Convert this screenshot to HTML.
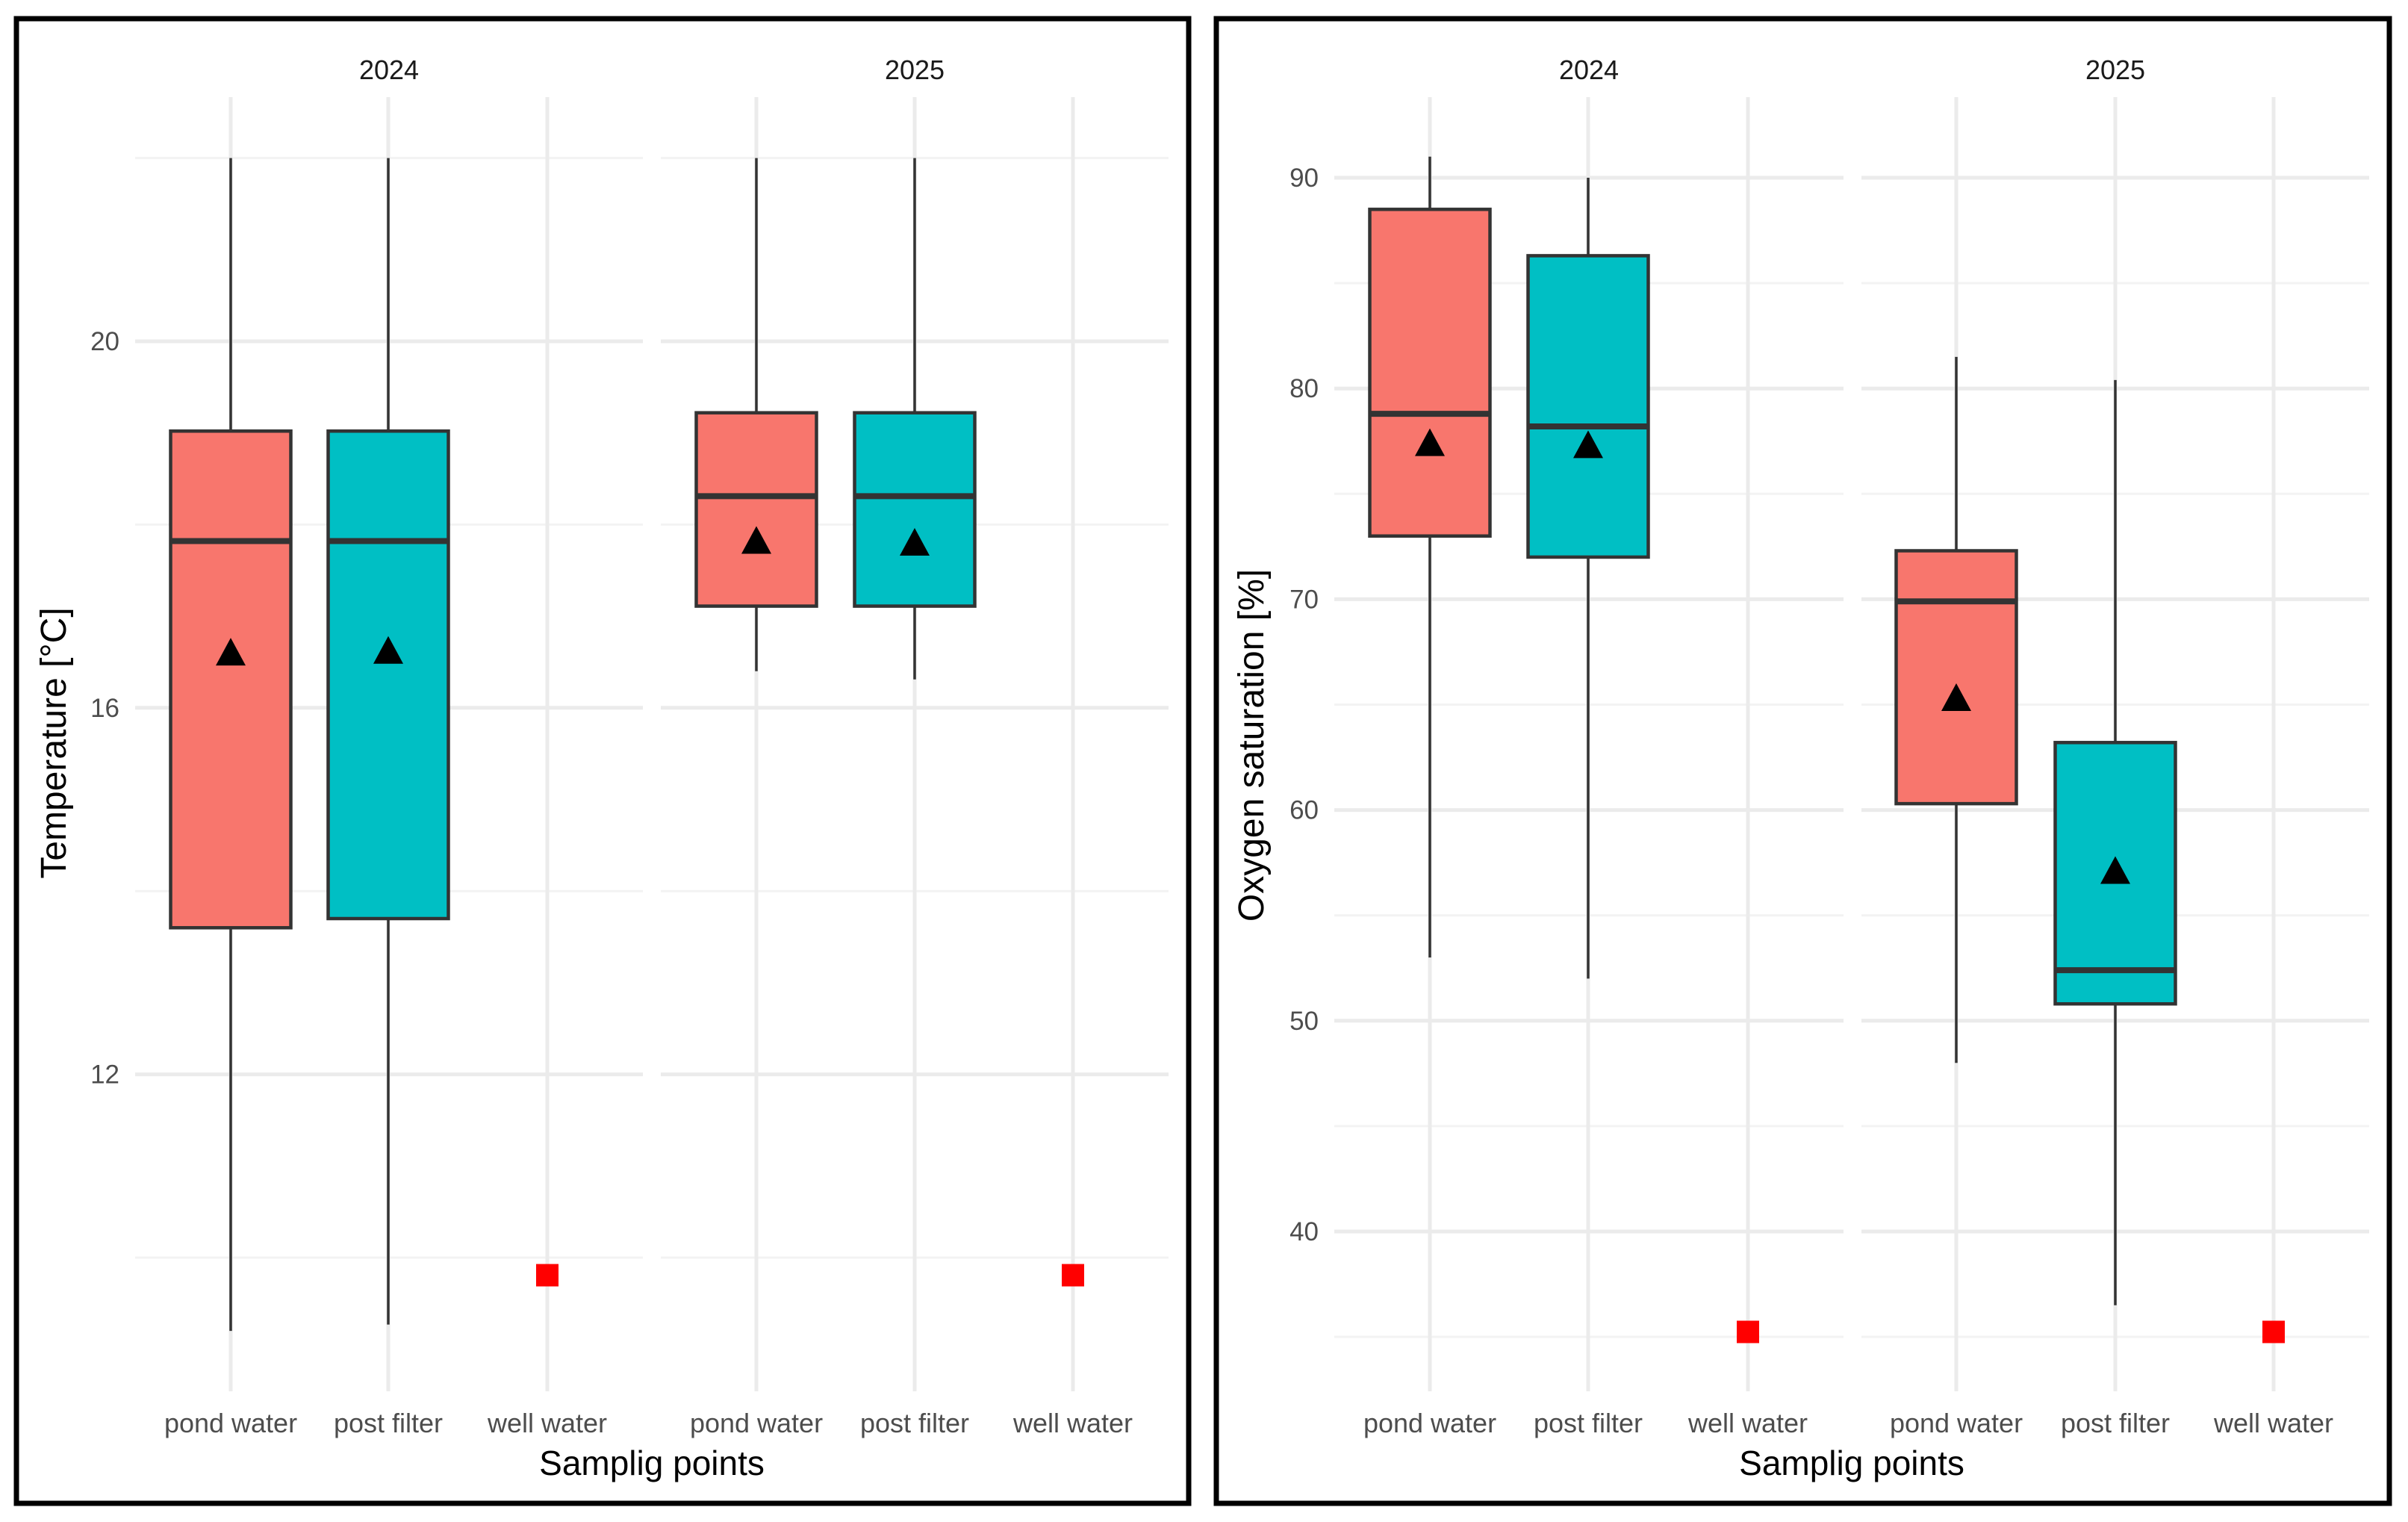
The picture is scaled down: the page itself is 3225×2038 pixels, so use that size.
<!DOCTYPE html>
<html><head><meta charset="utf-8"><style>
html,body{margin:0;padding:0;background:#fff;}
svg{display:block;font-family:"Liberation Sans",Arial,sans-serif;}
</style></head><body>
<svg id="chart" width="3225" height="2038" viewBox="0 0 3225 2038" xmlns="http://www.w3.org/2000/svg">
<rect x="0" y="0" width="3225" height="2038" fill="#fff"/>
</svg>
<script>
// ---- data ----
const categories = ["pond water","post filter","well water"];
const years = ["2024","2025"];
// temperature: [lower whisker, q1, median, q3, upper whisker, mean] for pond/post; well is single point
const tempPond2024 = [9.2, 13.6, 17.82, 19.02, 22.0, 16.6];
const tempPost2024 = [9.27, 13.7, 17.82, 19.02, 22.0, 16.62];
const tempWell2024 = [9.8];
const tempPond2025 = [16.4, 17.11, 18.31, 19.22, 22.0, 17.82];
const tempPost2025 = [16.31, 17.11, 18.31, 19.22, 22.0, 17.8];
const tempWell2025 = [9.8];
const tempTicks = [12, 16, 20];
const tempMinor = [10, 14, 18, 22];
// oxygen saturation
const oxyPond2024 = [53.0, 73.0, 78.8, 88.5, 91.0, 77.4];
const oxyPost2024 = [52.0, 72.0, 78.2, 86.3, 90.0, 77.3];
const oxyWell2024 = [35.2];
const oxyPond2025 = [48.0, 60.3, 69.9, 72.3, 81.5, 65.3];
const oxyPost2025 = [36.5, 50.8, 52.4, 63.2, 80.4, 57.1];
const oxyWell2025 = [35.2];
const oxyTicks = [40, 50, 60, 70, 80, 90];
const oxyMinor = [35, 45, 55, 65, 75, 85];

const NS = "http://www.w3.org/2000/svg";
const svg = document.getElementById("chart");
function mk(tag, attrs, parent) {
  const e = document.createElementNS(NS, tag);
  for (const k in attrs) e.setAttribute(k, attrs[k]);
  (parent || svg).appendChild(e);
  return e;
}

function drawPanel(cfg) {
  const g = mk("g", {});
  
  
  const fr = mk("rect", {x: cfg.frame[0], y: cfg.frame[1], width: cfg.frame[2], height: cfg.frame[3], fill: "none", stroke: "#000", "stroke-width": 7}, g);
  
  
  const yScale = v => cfg.y0 + (cfg.v0 - v) * cfg.k;
  cfg.facets.forEach((fx, fi) => {
    const fg = mk("g", {}, g);
    
    
    const left = fx[0], right = fx[1];
    cfg.minor.forEach(v => {
      const l = mk("line", {x1: left, x2: right, y1: yScale(v), y2: yScale(v), stroke: "#f3f3f3", "stroke-width": 3}, fg);
      
      
    });
    cfg.ticks.forEach(v => {
      const l = mk("line", {x1: left, x2: right, y1: yScale(v), y2: yScale(v), stroke: "#ebebeb", "stroke-width": 5}, fg);
      
      
    });
    const cx = cfg.cats[fi];
    cx.forEach(x => {
      const l = mk("line", {x1: x, x2: x, y1: 130, y2: 1863, stroke: "#ebebeb", "stroke-width": 5}, fg);
      
      
    });
    const ft = mk("text", {x: (left + right) / 2, y: 106, "text-anchor": "middle", "font-size": 36, fill: "#1a1a1a"}, fg);
    ft.textContent = years[fi];
    
    
    const boxes = cfg.data[fi];
    const fills = ["#F8766D", "#00BFC4"];
    [0, 1].forEach(bi => {
      const d = boxes[bi];
      const x = cx[bi], w = 161;
      const bg = mk("g", {}, fg);
      
      
      let l = mk("line", {x1: x, x2: x, y1: yScale(d[4]), y2: yScale(d[3]), stroke: "#333", "stroke-width": 3.5}, bg);
      
      
      l = mk("line", {x1: x, x2: x, y1: yScale(d[1]), y2: yScale(d[0]), stroke: "#333", "stroke-width": 3.5}, bg);
      
      
      const r = mk("rect", {x: x - w / 2, y: yScale(d[3]), width: w, height: yScale(d[1]) - yScale(d[3]), fill: fills[bi], stroke: "#333", "stroke-width": 4.5}, bg);
      
      
      l = mk("line", {x1: x - w / 2, x2: x + w / 2, y1: yScale(d[2]), y2: yScale(d[2]), stroke: "#333", "stroke-width": 8}, bg);
      
      
      const my = yScale(d[5]);
      const t = mk("polygon", {points: `${x},${my - 20} ${x - 20},${my + 17} ${x + 20},${my + 17}`, fill: "#000"}, bg);
      
      
    });
    const wy = yScale(boxes[2][0]);
    const sq = mk("rect", {x: cx[2] - 15, y: wy - 16, width: 30, height: 30, fill: "#ff0000"}, fg);
    
    
    cx.forEach((x, ci) => {
      const tl = mk("text", {x: x, y: 1918, "text-anchor": "middle", "font-size": 36, fill: "#4d4d4d"}, fg);
      tl.textContent = categories[ci];
      
      
    });
  });
  cfg.ticks.forEach(v => {
    const tl = mk("text", {x: cfg.tickX, y: yScale(v) + 12, "text-anchor": "end", "font-size": 35, fill: "#4d4d4d"}, g);
    tl.textContent = v;
    
    
  });
  const yt = mk("text", {x: 0, y: 0, "text-anchor": "middle", "font-size": 48, fill: "#000", transform: `translate(${cfg.titleX},${cfg.titleY}) rotate(-90)`}, g);
  yt.textContent = cfg.yTitle;
  
  
  const xt = mk("text", {x: cfg.xTitleX, y: 1975, "text-anchor": "middle", "font-size": 46, fill: "#000"}, g);
  xt.textContent = "Samplig points";
  
  
}

drawPanel({
  name: "temperature-panel",
  frame: [22, 25, 1570, 1988],
  y0: 457, v0: 20, k: 122.7,
  facets: [[181, 861], [885, 1565]],
  cats: [[309, 520, 733], [1013, 1225, 1437]],
  ticks: tempTicks, minor: tempMinor,
  data: [[tempPond2024, tempPost2024, tempWell2024], [tempPond2025, tempPost2025, tempWell2025]],
  tickX: 160, titleX: 88, titleY: 995, yTitle: "Temperature [°C]", xTitleX: 873
});
drawPanel({
  name: "oxygen-panel",
  frame: [1629, 25, 1571, 1988],
  y0: 238, v0: 90, k: 28.22,
  facets: [[1787, 2469], [2493, 3173]],
  cats: [[1915, 2127, 2341], [2620, 2833, 3045]],
  ticks: oxyTicks, minor: oxyMinor,
  data: [[oxyPond2024, oxyPost2024, oxyWell2024], [oxyPond2025, oxyPost2025, oxyWell2025]],
  tickX: 1766, titleX: 1692, titleY: 998, yTitle: "Oxygen saturation [%]", xTitleX: 2480
});
</script>
</body></html>
